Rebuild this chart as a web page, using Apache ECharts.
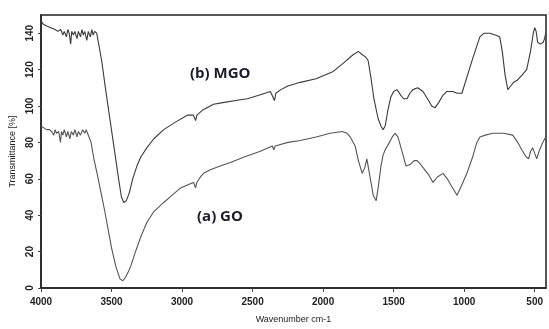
<!DOCTYPE html>
<html>
<head>
<meta charset="utf-8">
<script src="https://cdn.jsdelivr.net/npm/echarts@6/dist/echarts.min.js"></script>
<style>
  html, body { margin: 0; padding: 0; background: #fff; }
  #chart { width: 549px; height: 329px; }
</style>
</head>
<body>
<div id="chart"></div>
<script>
// wavenumber (cm-1), transmittance (%)
const mgoWave = [4000,3985,3960,3930,3900,3880,3860,3845,3835,3820,3810,3800,3790,3782,3770,3760,3745,3735,3720,3710,3700,3690,3675,3665,3650,3640,3630,3620,3605,3595,3570,3540,3510,3480,3450,3430,3413,3395,3375,3350,3320,3293,3250,3200,3130,3050,2960,2920,2904,2895,2850,2777,2700,2620,2538,2450,2374,2360,2345,2335,2300,2250,2162,2050,1928,1850,1790,1751,1720,1700,1681,1660,1640,1610,1590,1575,1560,1540,1520,1500,1476,1450,1430,1405,1385,1363,1330,1292,1260,1230,1207,1180,1150,1122,1080,1050,1016,980,940,910,889,860,818,780,748,730,710,691,670,650,627,590,557,530,510,500,490,479,460,440,430,422]
const mgoValue = [147,145,144,143,142,141,142,139,141,138,142,140,134,141,139,141,137,141,138,142,139,141,136,141,138,142,139,141,140,139,125,108,92,76,60,50,47,48,52,60,67,72,77,82,87,91,95,95,92,95,98,101,102,103,104,106,108,108,103,107,109,111,113,115,119,124,128,130,128,127,125,115,104,93,89,87,89,98,105,108,109,106,104,104,107,109,110,108,104,100,99,102,106,108,108,107,107,116,126,133,138,140,140,139,138,130,117,109,111,113,114,117,120,130,140,143,141,135,134,135,137,140]

const goWave = [4000,3980,3960,3940,3925,3910,3900,3890,3875,3862,3855,3845,3835,3820,3810,3795,3785,3770,3760,3745,3735,3720,3705,3690,3680,3670,3661,3645,3625,3600,3576,3550,3526,3500,3470,3440,3420,3400,3380,3364,3330,3293,3250,3200,3130,3070,3010,2950,2918,2905,2895,2870,2847,2800,2730,2657,2560,2450,2360,2350,2340,2250,2162,2050,1950,1865,1830,1808,1773,1750,1723,1705,1690,1681,1665,1645,1624,1610,1590,1575,1560,1530,1510,1490,1470,1455,1430,1412,1380,1355,1334,1310,1290,1278,1250,1221,1190,1150,1120,1090,1051,1020,981,940,910,889,850,797,720,656,620,592,560,543,530,514,500,486,465,443,422]
const goValue = [89,88,87,87,86,84,87,85,86,80,86,84,87,83,86,82,86,84,87,83,86,84,87,85,87,85,86,80,71,62,53,43,33,22,12,5,4,6,9,12,20,28,36,42,47,51,55,57,58,55,58,61,63,65,67,69,72,75,78,76,78,80,81,83,85,86,85,83,78,70,63,66,71,70,60,51,48,55,67,73,76,80,83,85,83,79,72,67,68,70,70,68,66,65,62,58,61,63,60,56,51,56,63,72,80,83,84,85,85,84,80,76,72,71,75,77,74,71,76,80,83]

const xTicks = [4000, 3500, 3000, 2500, 2000, 1500, 1000, 500]
const yTicks = [0, 20, 40, 60, 80, 100, 120, 140]

const zip = (a, b) => a.map((w, i) => [w, b[i]])

const myChart = echarts.init(document.getElementById('chart'))
const labelFont = { fontFamily: 'Liberation Sans', fontWeight: 'bold', fontSize: 10, color: '#222' }

const option = {
  animation: false,
  grid: {
    left: 41,
    right: 3,
    top: 15,
    bottom: 34,
    show: true,
    borderColor: '#222',
    borderWidth: 1.5
  },
  xAxis: {
    type: 'value',
    inverse: true,
    min: 420,
    max: 4000,
    name: 'Wavenumber cm-1',
    nameLocation: 'middle',
    nameGap: 27,
    nameTextStyle: { fontFamily: 'Liberation Sans', fontSize: 9, color: '#222' },
    axisLine: { show: true, lineStyle: { color: '#222', width: 1.5 } },
    axisTick: { show: true, customValues: xTicks, length: 4, lineStyle: { color: '#444' } },
    axisLabel: Object.assign({ customValues: xTicks, margin: 9, formatter: v => String(v) }, labelFont),
    splitLine: { show: false }
  },
  yAxis: {
    type: 'value',
    min: 0,
    max: 150,
    name: 'Transmittance [%]',
    nameLocation: 'middle',
    nameGap: 21,
    nameRotate: 90,
    nameTextStyle: { fontFamily: 'Liberation Sans', fontSize: 9, color: '#222' },
    axisLine: { show: true, lineStyle: { color: '#222', width: 1.5 } },
    axisTick: { show: true, customValues: yTicks, length: 3, lineStyle: { color: '#444' } },
    axisLabel: Object.assign({ customValues: yTicks, rotate: 90, margin: 6, formatter: v => String(v) }, labelFont),
    splitLine: { show: false }
  },
  graphic: [
    {
      type: 'text', left: 190, top: 66,
      style: { text: '(b) MGO', font: 'bold 15px "Open Sans"', fill: '#1c1c2a' }
    },
    {
      type: 'text', left: 197, top: 209,
      style: { text: '(a) GO', font: 'bold 15px "Open Sans"', fill: '#1c1c2a' }
    }
  ],
  series: [
    {
      name: '(b) MGO',
      type: 'line',
      data: zip(mgoWave, mgoValue),
      showSymbol: false,
      lineStyle: { color: '#3a3a3a', width: 1.1 }
    },
    {
      name: '(a) GO',
      type: 'line',
      data: zip(goWave, goValue),
      showSymbol: false,
      lineStyle: { color: '#555', width: 1.1 }
    }
  ]
}

option && myChart.setOption(option)
</script>
</body>
</html>
